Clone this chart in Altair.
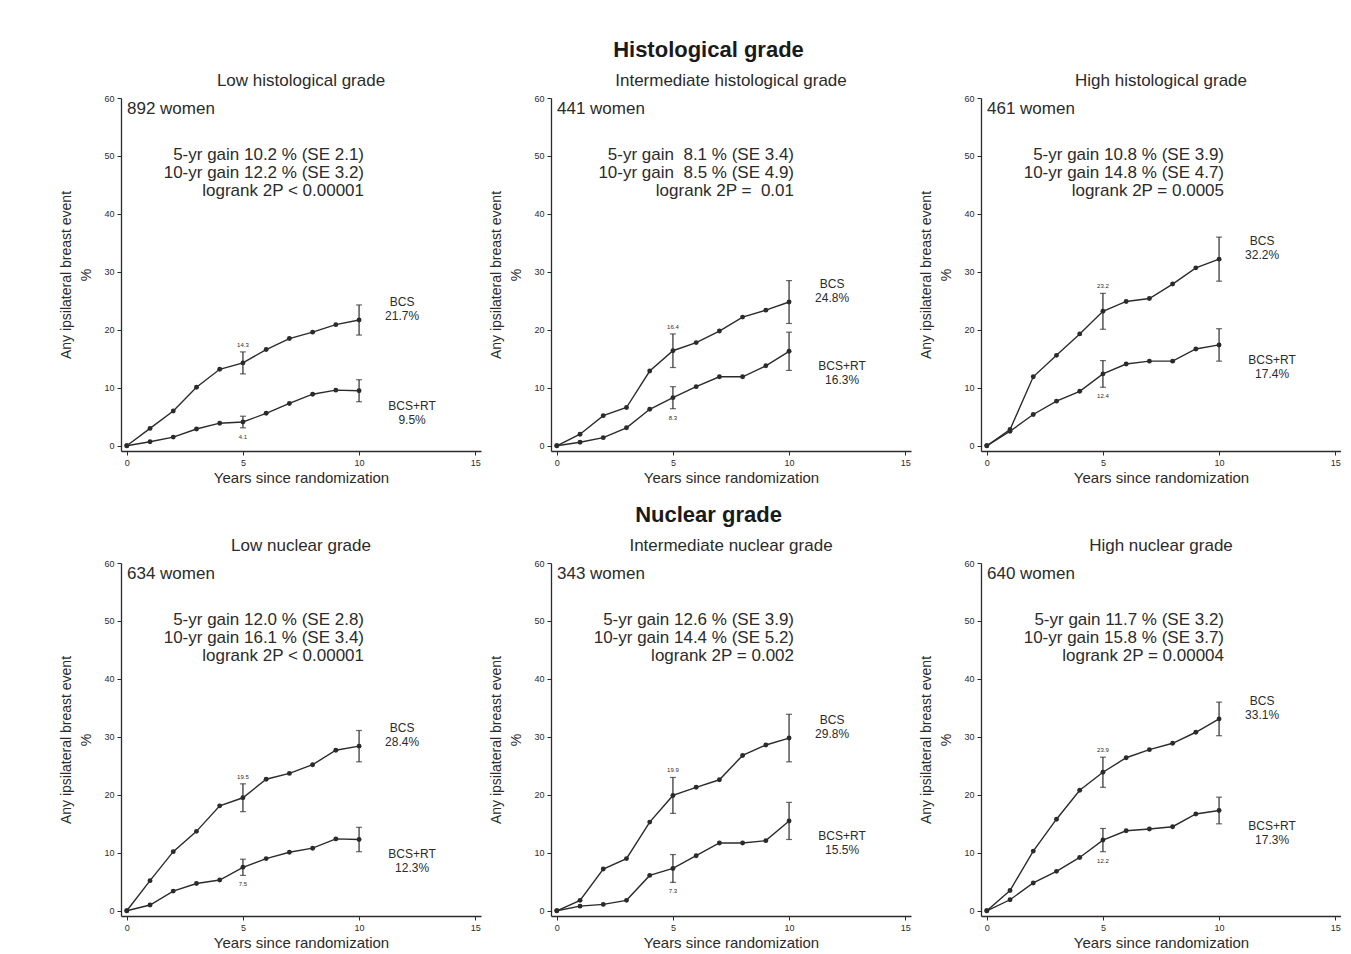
import altair as alt
import pandas as pd

# Cumulative risk (%) of any ipsilateral breast event, years 0..10
YEARS = list(range(11))

# Low histological grade
LH_BCS = [0, 3.0, 6.0, 10.1, 13.2, 14.3, 16.6, 18.5, 19.6, 20.9, 21.7]
LH_RT = [0, 0.7, 1.5, 2.9, 3.9, 4.1, 5.6, 7.3, 8.9, 9.6, 9.5]
LH_SE_BCS = [1.9, 2.6]   # standard errors at 5 and 10 years
LH_SE_RT = [1.0, 1.9]

# Intermediate histological grade
IH_BCS = [0, 2.0, 5.2, 6.6, 12.9, 16.4, 17.8, 19.8, 22.2, 23.4, 24.8]
IH_RT = [0, 0.6, 1.4, 3.1, 6.3, 8.3, 10.2, 11.9, 11.9, 13.8, 16.3]
IH_SE_BCS = [2.9, 3.7]
IH_SE_RT = [1.9, 3.3]

# High histological grade
HH_BCS = [0, 2.8, 11.9, 15.6, 19.3, 23.2, 24.9, 25.4, 27.9, 30.7, 32.2]
HH_RT = [0, 2.5, 5.4, 7.7, 9.4, 12.4, 14.1, 14.6, 14.6, 16.7, 17.4]
HH_SE_BCS = [3.1, 3.8]
HH_SE_RT = [2.3, 2.8]

# Low nuclear grade
LN_BCS = [0, 5.2, 10.2, 13.7, 18.1, 19.5, 22.7, 23.7, 25.2, 27.7, 28.4]
LN_RT = [0, 1.0, 3.4, 4.7, 5.3, 7.5, 9.0, 10.1, 10.8, 12.4, 12.3]
LN_SE_BCS = [2.4, 2.7]
LN_SE_RT = [1.4, 2.1]

# Intermediate nuclear grade
IN_BCS = [0, 1.8, 7.2, 9.0, 15.3, 19.9, 21.3, 22.6, 26.8, 28.6, 29.8]
IN_RT = [0, 0.8, 1.1, 1.8, 6.1, 7.3, 9.5, 11.7, 11.7, 12.1, 15.5]
IN_SE_BCS = [3.1, 4.1]
IN_SE_RT = [2.4, 3.2]

# High nuclear grade
HN_BCS = [0, 3.5, 10.3, 15.8, 20.8, 23.9, 26.4, 27.8, 28.9, 30.8, 33.1]
HN_RT = [0, 1.9, 4.8, 6.8, 9.2, 12.2, 13.8, 14.1, 14.5, 16.7, 17.3]
HN_SE_BCS = [2.6, 2.9]
HN_SE_RT = [2.0, 2.3]

NB = "\u00a0"

PANEL_TITLES = [
    "Low histological grade", "Intermediate histological grade", "High histological grade",
    "Low nuclear grade", "Intermediate nuclear grade", "High nuclear grade",
]
WOMEN = ["892 women", "441 women", "461 women", "634 women", "343 women", "640 women"]
STATS = [
    ["5-yr gain 10.2 % (SE 2.1)", "10-yr gain 12.2 % (SE 3.2)", "logrank 2P < 0.00001"],
    [f"5-yr gain {NB}8.1 % (SE 3.4)", f"10-yr gain {NB}8.5 % (SE 4.9)", f"logrank 2P = {NB}0.01"],
    ["5-yr gain 10.8 % (SE 3.9)", "10-yr gain 14.8 % (SE 4.7)", "logrank 2P = 0.0005"],
    ["5-yr gain 12.0 % (SE 2.8)", "10-yr gain 16.1 % (SE 3.4)", "logrank 2P < 0.00001"],
    ["5-yr gain 12.6 % (SE 3.9)", "10-yr gain 14.4 % (SE 5.2)", "logrank 2P = 0.002"],
    ["5-yr gain 11.7 % (SE 3.2)", "10-yr gain 15.8 % (SE 3.7)", "logrank 2P = 0.00004"],
]
SERIES = [
    (LH_BCS, LH_RT, LH_SE_BCS, LH_SE_RT),
    (IH_BCS, IH_RT, IH_SE_BCS, IH_SE_RT),
    (HH_BCS, HH_RT, HH_SE_BCS, HH_SE_RT),
    (LN_BCS, LN_RT, LN_SE_BCS, LN_SE_RT),
    (IN_BCS, IN_RT, IN_SE_BCS, IN_SE_RT),
    (HN_BCS, HN_RT, HN_SE_BCS, HN_SE_RT),
]

FONT = "Liberation Sans"
INK = "#2b2b2b"
W, H = 360, 353

x_scale = alt.Scale(domain=[-0.25, 15.25], nice=False, zero=False)
y_scale = alt.Scale(domain=[-0.9, 60], nice=False, zero=False)
x_axis = alt.Axis(values=[0, 5, 10, 15], title="Years since randomization",
                  titleFontSize=15, titleFontWeight="normal", titlePadding=3,
                  labelFontSize=9, tickSize=4, labelPadding=3)
y_axis = alt.Axis(values=[0, 10, 20, 30, 40, 50, 60],
                  title=["Any ipsilateral breast event", "%"],
                  titleFontSize=14, titleFontWeight="normal", titlePadding=10,
                  titleLineHeight=20, labelFontSize=9, tickSize=4, labelPadding=3)


def X(field):
    return alt.X(f"{field}:Q", scale=x_scale, axis=x_axis)


def Y(field):
    return alt.Y(f"{field}:Q", scale=y_scale, axis=y_axis)


def panel(i):
    bcs, rt, se_bcs, se_rt = SERIES[i]
    curves = pd.DataFrame(
        [{"year": yr, "pct": v, "arm": "BCS"} for yr, v in zip(YEARS, bcs)]
        + [{"year": yr, "pct": v, "arm": "BCS+RT"} for yr, v in zip(YEARS, rt)]
    )
    bars = pd.DataFrame(
        [{"year": yr, "arm": "BCS", "mid": bcs[yr], "lo": bcs[yr] - s, "hi": bcs[yr] + s,
          "label": f"{bcs[yr]:.1f}"} for yr, s in zip((5, 10), se_bcs)]
        + [{"year": yr, "arm": "BCS+RT", "mid": rt[yr], "lo": rt[yr] - s, "hi": rt[yr] + s,
            "label": f"{rt[yr]:.1f}"} for yr, s in zip((5, 10), se_rt)]
    )
    ends = pd.DataFrame([
        {"year": 10, "pct": bcs[10], "arm": "BCS", "text": f"BCS\n{bcs[10]:.1f}%"},
        {"year": 10, "pct": rt[10], "arm": "BCS+RT", "text": f"BCS+RT\n{rt[10]:.1f}%"},
    ])

    base = alt.Chart(curves)
    line = base.mark_line(color=INK, strokeWidth=1.4).encode(x=X("year"), y=Y("pct"), detail="arm:N")
    dots = base.mark_circle(color=INK, size=24, opacity=1).encode(x=X("year"), y=Y("pct"), detail="arm:N")

    bb = alt.Chart(bars)
    rules = bb.mark_rule(color=INK, strokeWidth=1.2).encode(x=X("year"), y=Y("lo"), y2="hi")
    caps = bb.transform_fold(["lo", "hi"], as_=["end", "v"]).mark_tick(
        color=INK, orient="horizontal", size=6, thickness=1.2
    ).encode(x=X("year"), y=Y("v"))
    five_top = bb.transform_filter("datum.year == 5 && datum.arm == 'BCS'").mark_text(
        font=FONT, fontSize=6, color=INK, dy=-7
    ).encode(x=X("year"), y=Y("hi"), text="label:N")
    five_bot = bb.transform_filter("datum.year == 5 && datum.arm == 'BCS+RT'").mark_text(
        font=FONT, fontSize=6, color=INK, dy=9
    ).encode(x=X("year"), y=Y("lo"), text="label:N")

    eb = alt.Chart(ends)
    end_bcs = eb.transform_filter("datum.arm == 'BCS'").mark_text(
        font=FONT, fontSize=12, color=INK, lineBreak="\n", lineHeight=14, dx=43, dy=-18
    ).encode(x=X("year"), y=Y("pct"), text="text:N")
    end_rt = eb.transform_filter("datum.arm == 'BCS+RT'").mark_text(
        font=FONT, fontSize=12, color=INK, lineBreak="\n", lineHeight=14, dx=53, dy=15
    ).encode(x=X("year"), y=Y("pct"), text="text:N")

    women = alt.Chart(pd.DataFrame({"t": [WOMEN[i]]})).mark_text(
        font=FONT, fontSize=17, color=INK, align="left", baseline="middle"
    ).encode(x=alt.value(6), y=alt.value(11), text="t:N")
    stats = alt.Chart(pd.DataFrame({"t": ["\n".join(STATS[i])]})).mark_text(
        font=FONT, fontSize=17, color=INK, align="right", baseline="middle",
        lineBreak="\n", lineHeight=18
    ).encode(x=alt.value(243), y=alt.value(57), text="t:N")

    return alt.layer(
        line, dots, rules, caps, five_top, five_bot, end_bcs, end_rt, women, stats
    ).properties(
        width=W, height=H,
        title=alt.TitleParams(PANEL_TITLES[i], fontSize=17, fontWeight="normal",
                              font=FONT, color=INK, frame="group", offset=4),
    )


def row(title, idx):
    return alt.hconcat(
        *[panel(i) for i in idx], spacing=8,
        title=alt.TitleParams(title, fontSize=22, fontWeight="bold", font=FONT,
                              color="#1a1a1a", anchor="middle", offset=10, dx=8),
    )


chart = alt.vconcat(
    row("Histological grade", [0, 1, 2]),
    row("Nuclear grade", [3, 4, 5]),
    spacing=19,
).properties(
    padding={"left": 59, "top": 39, "right": 0, "bottom": 0},
    background="white",
).configure_view(stroke=None).configure_axis(
    grid=False, domainColor=INK, tickColor=INK, labelColor=INK, titleColor=INK,
    labelFont=FONT, titleFont=FONT, domainWidth=1.3,
)

chart.save("out.html", embed_options={"renderer": "svg", "actions": False})
